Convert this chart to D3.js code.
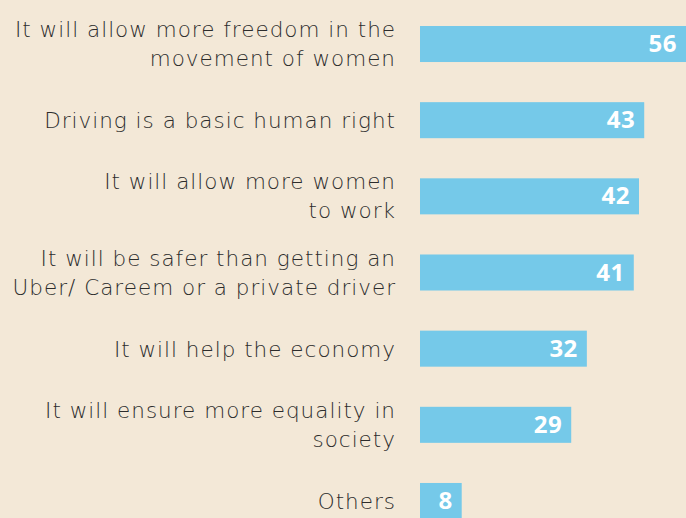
<!DOCTYPE html>
<html>
<head>
<meta charset="utf-8">
<script src="https://cdn.jsdelivr.net/npm/d3@7"></script>
<style>
  html, body { margin: 0; padding: 0; background: #f3e8d7; overflow: hidden; }
  svg { display: block; }
</style>
</head>
<body>
<svg id="chart" width="686" height="518"></svg>
<script>
const categories = [
  ["It will allow more freedom in the", "movement of women"],
  ["Driving is a basic human right"],
  ["It will allow more women", "to work"],
  ["It will be safer than getting an", "Uber/ Careem or a private driver"],
  ["It will help the economy"],
  ["It will ensure more equality in", "society"],
  ["Others"]
];
const values = [56, 43, 42, 41, 32, 29, 8];

const W = 686, H = 518;
const svg = d3.select("#chart");
svg.append("rect").attr("width", W).attr("height", H).attr("fill", "#f3e8d7");

const keys = categories.map((c, i) => i);
const y = d3.scaleBand().domain(keys).range([26, 519]).paddingInner(0.527).paddingOuter(0);
const x = d3.scaleLinear().domain([0, 56]).range([420, 712]);

const g = svg.append("g");

g.selectAll("rect.bar").data(values).join("rect")
  .attr("class", "bar")
  .attr("x", x(0))
  .attr("y", (d, i) => y(i))
  .attr("width", d => x(d) - x(0))
  .attr("height", y.bandwidth())
  .attr("fill", "#75c9e9");

g.selectAll("text.val").data(values).join("text")
  .attr("class", "val")
  .attr("x", d => Math.min(x(d), W) - 9)
  .attr("y", (d, i) => y(i) + y.bandwidth() / 2 + 8)
  .attr("text-anchor", "end")
  .attr("fill", "#ffffff")
  .style("font-family", "'Open Sans', sans-serif")
  .style("font-weight", 700)
  .style("font-size", "24px")
  .style("letter-spacing", "0.5px")
  .text(d => d);

const labels = g.selectAll("text.lab").data(categories).join("text")
  .attr("class", "lab")
  .attr("text-anchor", "end")
  .attr("fill", "#2c2c2c")
  .style("font-family", "'DejaVu Sans', sans-serif")
  .style("font-weight", 200)
  .style("font-size", "21.5px")
  .attr("x", 395)
  .attr("y", (d, i) => {
    const c = y(i) + y.bandwidth() / 2;
    return d.length === 1 ? c + 8 : c - 7;
  });

const tspans = labels.selectAll("tspan").data(d => d).join("tspan")
  .attr("x", 395)
  .attr("dy", (d, j) => j === 0 ? 0 : 29)
  .text(d => d);

// adjust tracking so the longest line spans like the reference (~381px)
const longest = "It will allow more freedom in the";
const ref = tspans.filter(d => d === longest).node();
const len = ref.getComputedTextLength();
const ls = (381 - len) / longest.length;
labels.style("letter-spacing", ls + "px");
tspans.attr("x", 395 + ls);
</script>
</body>
</html>
